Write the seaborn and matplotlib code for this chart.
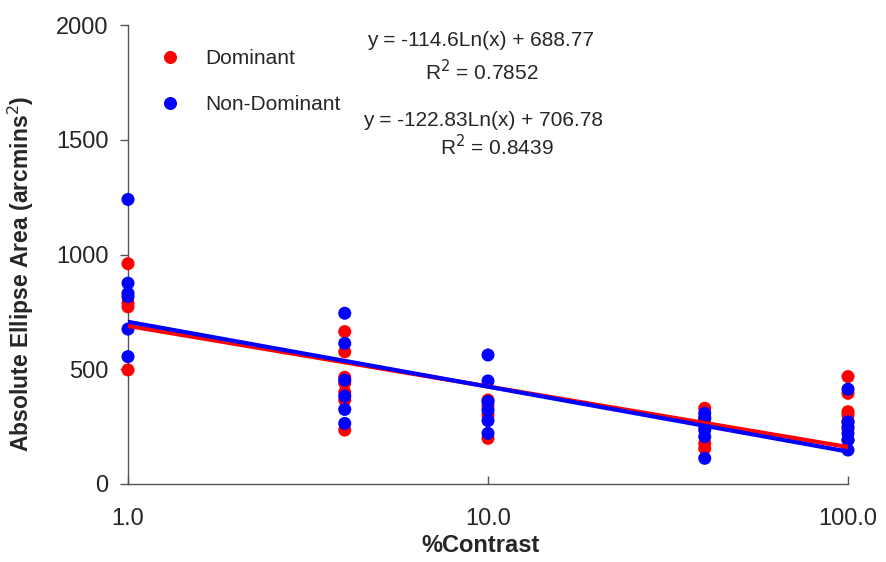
import numpy as np
import pandas as pd
import matplotlib
matplotlib.use("Agg")
import matplotlib.pyplot as plt
import seaborn as sns

# Measured ellipse areas (arcmins^2) at each contrast level
contrast_levels = [1.0, 4.0, 10.0, 40.0, 100.0]

dominant = {
    1.0: [960, 790, 772, 497],
    4.0: [664, 576, 465, 440, 400, 366, 235],
    10.0: [366, 340, 300, 199],
    40.0: [330, 290, 250, 177, 155],
    100.0: [468, 395, 315, 300, 270, 240, 192],
}
non_dominant = {
    1.0: [1240, 875, 831, 816, 675, 555],
    4.0: [744, 613, 453, 383, 325, 264],
    10.0: [562, 449, 359, 322, 276, 221],
    40.0: [308, 285, 260, 235, 206, 112],
    100.0: [413, 271, 250, 220, 192, 148],
}

# Logarithmic fits: y = a*ln(x) + b, with R^2
fit_dom = (-114.6, 688.77, 0.7852)
fit_nondom = (-122.83, 706.78, 0.8439)

groups = ["Dominant", "Non-Dominant"]
colors = {"Dominant": "#ff0000", "Non-Dominant": "#0000ff"}

rows = []
for name, data in zip(groups, [dominant, non_dominant]):
    for x in contrast_levels:
        for v in data[x]:
            rows.append({"contrast": x, "area": v, "eye": name})
df = pd.DataFrame(rows)

xs = np.logspace(0, 2, 200)
fit_rows = []
for name, (a, b, _) in zip(groups, [fit_dom, fit_nondom]):
    for x in xs:
        fit_rows.append({"contrast": x, "area": a * np.log(x) + b, "eye": name})
fit_df = pd.DataFrame(fit_rows)

sns.set_style("white")
plt.rcParams["font.family"] = ["Liberation Sans", "DejaVu Sans"]

fig = plt.figure(figsize=(8.86, 5.62), dpi=100)
ax = fig.add_axes([128 / 886, 1 - 484 / 562, 720 / 886, 459 / 562])

sns.scatterplot(data=df, x="contrast", y="area", hue="eye", palette=colors,
                s=88, linewidth=0, edgecolor="none", ax=ax, zorder=3,
                hue_order=groups, clip_on=False)
sns.lineplot(data=fit_df, x="contrast", y="area", hue="eye", palette=colors,
             linewidth=3, ax=ax, legend=False, zorder=4, hue_order=groups)

ax.set_xscale("log")
ax.set_xlim(1, 100)
ax.set_ylim(0, 2000)
ax.set_xticks([1, 10, 100])
ax.set_xticklabels(["1.0", "10.0", "100.0"])
ax.xaxis.set_minor_locator(matplotlib.ticker.NullLocator())
ax.set_yticks([0, 500, 1000, 1500, 2000])

for side in ["top", "right"]:
    ax.spines[side].set_visible(False)
for side in ["left", "bottom"]:
    ax.spines[side].set_color("#555555")
    ax.spines[side].set_linewidth(1.0)

ax.tick_params(axis="y", direction="out", length=6, width=1, color="#555555",
               labelsize=17, pad=8, left=True)
ax.tick_params(axis="x", direction="in", length=6, width=1, color="#555555",
               labelsize=17, pad=17, bottom=True)

ax.set_xlabel("%Contrast", fontsize=17, fontweight="bold")
ax.set_ylabel("Absolute Ellipse Area (arcmins$^2$)", fontsize=16.5,
              fontweight="bold")
ax.xaxis.set_label_coords(0.49, -0.11)
ax.yaxis.set_label_coords(-0.128, 0.4575)

handles, labels = ax.get_legend_handles_labels()
leg = ax.legend(handles, labels, loc="upper left", bbox_to_anchor=(0.044, 0.947),
                frameon=False, fontsize=15, labelspacing=1.29,
                handlelength=1.0, handletextpad=1.18, borderpad=0,
                borderaxespad=0)

def eq_text(a, b):
    return f"y = {a:g}Ln(x) + {b:g}"

ax.text(0.489, 0.967, eq_text(fit_dom[0], fit_dom[1]), transform=ax.transAxes,
        ha="center", va="center", fontsize=15)
ax.text(0.491, 0.898, f"R$^2$ = {fit_dom[2]:.4f}", transform=ax.transAxes,
        ha="center", va="center", fontsize=15)
ax.text(0.493, 0.793, eq_text(fit_nondom[0], fit_nondom[1]),
        transform=ax.transAxes, ha="center", va="center", fontsize=15)
ax.text(0.513, 0.736, f"R$^2$ = {fit_nondom[2]:.4f}", transform=ax.transAxes,
        ha="center", va="center", fontsize=15)

fig.savefig("out.png", dpi=100)
